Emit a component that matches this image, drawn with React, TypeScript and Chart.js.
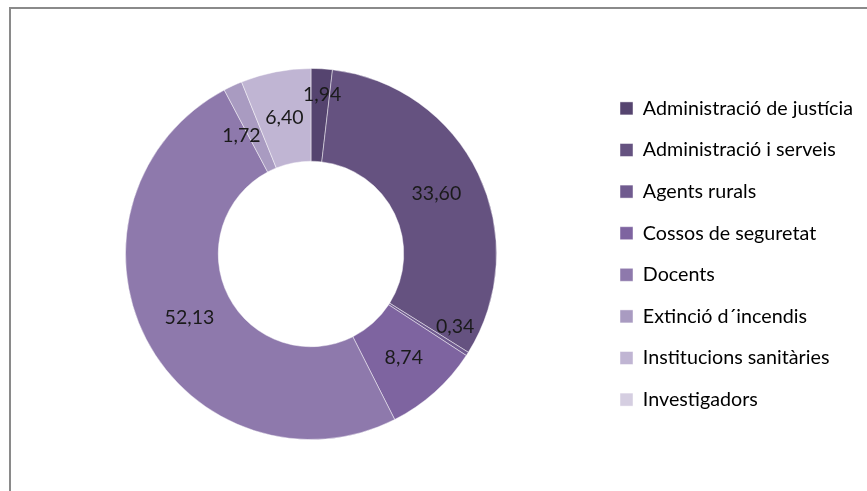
import React, { useEffect, useRef } from 'react';
import { Chart, registerables } from 'chart.js';

Chart.register(...registerables);

const categories = [
  'Administració de justícia',
  'Administració i serveis',
  'Agents rurals',
  'Cossos de seguretat',
  'Docents',
  'Extinció d´incendis',
  'Institucions sanitàries',
  'Investigadors',
];
const values = [1.94, 33.6, 0.34, 8.74, 52.13, 1.72, 6.4, 0];
const colors = ['#55446f', '#655280', '#705b8f', '#7e64a0', '#8e79ac', '#a99bc1', '#c0b5d3', '#d5cee1'];

// small manual nudges for data labels (px), like the original's moved labels
const labelNudges: [number, number][] = [
  [3, -20], [0, 0], [27, -2], [0, 0], [2, 0], [-11, 8], [0, 0], [0, 0],
];

const FONT = 'Lato, "Noto Sans", sans-serif';
const LEGEND_SIZE = 19.7;
const LABEL_SIZE = 19.5;

const fmt = (v: number) => v.toFixed(2).replace('.', ',');

const labelPlugin = {
  id: 'sliceLabels',
  afterDatasetsDraw(chart: any) {
    const ctx = chart.ctx;
    const meta = chart.getDatasetMeta(0);
    ctx.save();
    ctx.font = `${LABEL_SIZE}px ${FONT}`;
    ctx.fillStyle = '#1a1a1a';
    ctx.textAlign = 'center';
    ctx.textBaseline = 'middle';
    meta.data.forEach((arc: any, i: number) => {
      const v = values[i];
      if (!v) return;
      const p = arc.tooltipPosition();
      const n = labelNudges[i] || [0, 0];
      ctx.fillText(fmt(v), p.x + n[0], p.y + n[1]);
    });
    ctx.restore();
  },
};

export default function App() {
  const ref = useRef<HTMLCanvasElement>(null);

  useEffect(() => {
    const canvas = ref.current!;
    const mctx = canvas.getContext('2d')!;
    mctx.font = `${LEGEND_SIZE}px ${FONT}`;
    const maxW = Math.max(...categories.map((c) => mctx.measureText(c).width));

    const W = 867;
    const centerX = 311;
    const boxLeft = 620;
    const boxW = 13;
    const pad = 41.6 - LEGEND_SIZE;
    const legendLeft = boxLeft - pad;
    const legendWidth = pad + boxW + LEGEND_SIZE / 2 + maxW;
    const padRight = W - legendLeft - legendWidth;
    const padLeft = 2 * centerX - legendLeft;

    const chart = new Chart(canvas, {
      type: 'doughnut',
      data: {
        labels: categories,
        datasets: [
          {
            data: values,
            backgroundColor: colors,
            borderColor: 'rgba(255,255,255,0.45)',
            borderWidth: 1,
          },
        ],
      },
      options: {
        responsive: false,
        animation: false,
        cutout: '50%',
        layout: { padding: { top: 68, bottom: 51, left: padLeft, right: padRight } },
        plugins: {
          tooltip: { enabled: false },
          legend: {
            position: 'right',
            align: 'center',
            labels: {
              font: { family: FONT, size: LEGEND_SIZE },
              color: '#000',
              boxWidth: boxW,
              boxHeight: 13,
              padding: pad,
            },
          },
        },
      },
      plugins: [labelPlugin],
    } as any);

    // correct the legend's place so that its boxes start where intended
    const legend: any = (chart as any).legend;
    if (legend) {
      const dx = legendLeft - legend.left;
      if (Math.abs(dx) > 0.5) {
        (chart.options as any).layout.padding.right = padRight - dx;
        chart.update();
      }
    }
    return () => chart.destroy();
  }, []);

  return (
    <div style={{ position: 'fixed', left: 0, top: 0, width: 867, height: 491, overflow: 'hidden', background: '#fff' }}>
      <div
        style={{
          position: 'absolute',
          left: 9,
          top: 7,
          width: 1000,
          height: 1000,
          border: '2px solid #8a8a8a',
        }}
      />
      <canvas ref={ref} width={867} height={491} style={{ position: 'absolute', left: 0, top: 0 }} />
    </div>
  );
}
